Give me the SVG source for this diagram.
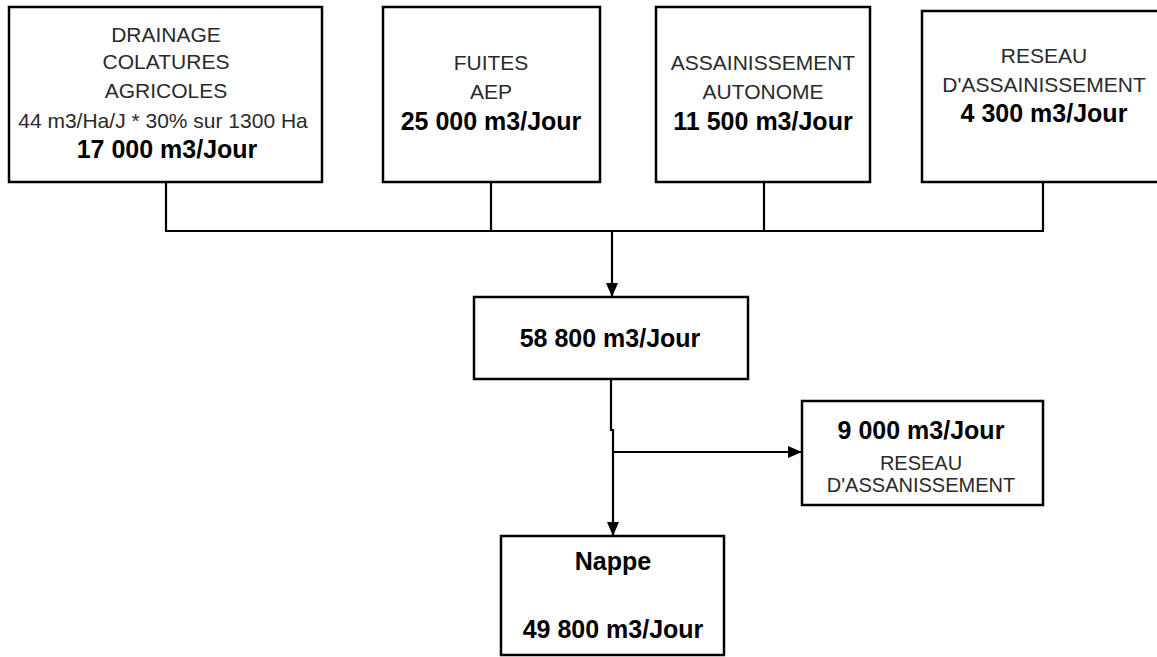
<svg xmlns="http://www.w3.org/2000/svg" width="1157" height="657" viewBox="0 0 1157 657">
<style>
.box{fill:#fff;stroke:#000;stroke-width:2.5}
.t{font-family:"Liberation Sans",Arial,sans-serif;font-size:21px;fill:#2a2a2a;text-anchor:middle}
.s{font-size:20px}
.b{font-family:"Liberation Sans",Arial,sans-serif;font-size:25px;font-weight:bold;fill:#000;text-anchor:middle}
.c{fill:none;stroke:#000;stroke-width:2.2}
</style>
<defs>
<marker id="arr" markerUnits="userSpaceOnUse" markerWidth="14" markerHeight="14" refX="14" refY="7" orient="auto">
<path d="M0,1 L14,7 L0,13 Z" fill="#000"/>
</marker>
</defs>
<rect width="1157" height="657" fill="#fff"/>
<g id="connectors">
<path class="c" d="M166 182 V231 M491 182 V231 M764 182 V231 M1043 182 V231 M165 231 H1044"/>
<path class="c" d="M612 231 V297" marker-end="url(#arr)"/>
<path class="c" d="M611 379 V430 H613 V536" marker-end="url(#arr)"/>
<path class="c" d="M613 452 H802" marker-end="url(#arr)"/>
</g>
<g id="drainage">
<rect class="box" x="9" y="7" width="313" height="175"/>
<text class="t" x="166" y="42">DRAINAGE</text>
<text class="t" x="166" y="69">COLATURES</text>
<text class="t" x="166" y="98">AGRICOLES</text>
<text class="t" x="163" y="128">44 m3/Ha/J * 30% sur 1300 Ha</text>
<text class="b" x="167" y="158">17 000 m3/Jour</text>
</g>
<g id="fuites">
<rect class="box" x="383" y="7" width="217" height="175"/>
<text class="t" x="491" y="70">FUITES</text>
<text class="t" x="491" y="99">AEP</text>
<text class="b" x="491" y="130">25 000 m3/Jour</text>
</g>
<g id="autonome">
<rect class="box" x="656" y="7" width="214" height="175"/>
<text class="t" x="763" y="70">ASSAINISSEMENT</text>
<text class="t" x="763" y="99">AUTONOME</text>
<text class="b" x="763" y="130">11 500 m3/Jour</text>
</g>
<g id="reseau">
<rect class="box" x="922" y="11" width="250" height="171"/>
<text class="t" x="1044" y="63">RESEAU</text>
<text class="t" x="1044" y="92">D'ASSAINISSEMENT</text>
<text class="b" x="1044" y="122">4 300 m3/Jour</text>
</g>
<g id="total">
<rect class="box" x="474" y="297" width="274" height="82"/>
<text class="b" x="610" y="347">58 800 m3/Jour</text>
</g>
<g id="sortie">
<rect class="box" x="802" y="401" width="241" height="104"/>
<text class="b" x="921" y="439">9 000 m3/Jour</text>
<text class="t s" x="921" y="470">RESEAU</text>
<text class="t s" x="921" y="492">D'ASSANISSEMENT</text>
</g>
<g id="nappe">
<rect class="box" x="501" y="536" width="223" height="119"/>
<text class="b" x="613" y="570">Nappe</text>
<text class="b" x="613" y="638">49 800 m3/Jour</text>
</g>
</svg>
